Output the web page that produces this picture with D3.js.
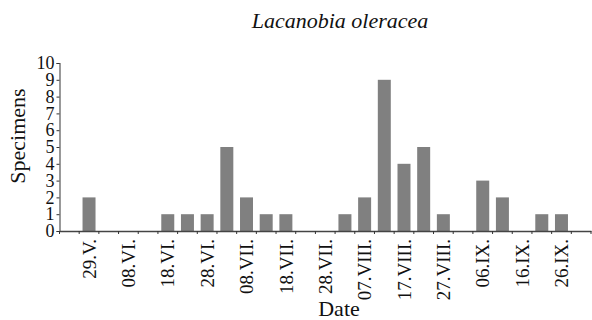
<!DOCTYPE html>
<html>
<head>
<meta charset="utf-8">
<script src="https://cdn.jsdelivr.net/npm/d3@7"></script>
<style>
  body { margin: 0; background: #fff; }
  svg text { font-family: "Liberation Serif", serif; fill: #111; }
</style>
</head>
<body>
<div id="chart"></div>
<script>
// 5-day sampling dates (every other one gets a label)
const dates = ["24.V.", "29.V.", "03.VI.", "08.VI.", "13.VI.", "18.VI.", "23.VI.", "28.VI.",
  "03.VII.", "08.VII.", "13.VII.", "18.VII.", "23.VII.", "28.VII.", "02.VIII.", "07.VIII.",
  "12.VIII.", "17.VIII.", "22.VIII.", "27.VIII.", "01.IX.", "06.IX.", "11.IX.", "16.IX.",
  "21.IX.", "26.IX.", "01.X."];
const specimens = [0, 2, 0, 0, 0, 1, 1, 1, 5, 2, 1, 1, 0, 0, 1, 2, 9, 4, 5, 1, 0, 3, 2, 0, 1, 1, 0];
const tickLabels = ["29.V.", "08.VI.", "18.VI.", "28.VI.", "08.VII.", "18.VII.", "28.VII.",
  "07.VIII.", "17.VIII.", "27.VIII.", "06.IX.", "16.IX.", "26.IX."];
const yTicks = [0, 1, 2, 3, 4, 5, 6, 7, 8, 9, 10];

const W = 592, H = 320;
const plotLeft = 59.5, plotRight = 591, plotTop = 63, plotBottom = 231;

const svg = d3.select("#chart")
  .append("svg")
  .attr("width", W)
  .attr("height", H);

// x: one band per date
const x = d3.scaleBand()
  .domain(dates)
  .range([plotLeft, plotRight])
  .paddingInner(0.34)
  .paddingOuter(0.17);

const y = d3.scaleLinear()
  .domain([0, 10])
  .range([plotBottom, plotTop]);

// bars
svg.append("g")
  .selectAll("rect")
  .data(dates.map((d, i) => ({date: d, value: specimens[i]})).filter(d => d.value > 0))
  .join("rect")
  .attr("x", d => x(d.date))
  .attr("y", d => y(d.value))
  .attr("width", x.bandwidth())
  .attr("height", d => y(0) - y(d.value))
  .attr("fill", "#808080");

// y axis
const yAxis = svg.append("g")
  .attr("transform", `translate(${plotLeft},0)`)
  .call(d3.axisLeft(y).tickValues(yTicks).tickSize(3).tickPadding(2));
yAxis.select(".domain").attr("stroke", "#555").attr("stroke-width", 1.2);
yAxis.selectAll(".tick line").attr("stroke", "#333");
yAxis.selectAll(".tick text")
  .style("font-size", "18px")
  .style("font-family", "Liberation Serif, serif")
  .attr("fill", "#111");

// x axis: labels at every other band centre
const xAxis = svg.append("g")
  .attr("transform", `translate(0,${plotBottom})`)
  .call(d3.axisBottom(x).tickValues(tickLabels).tickSize(0));
xAxis.select(".domain").attr("stroke", "#444").attr("stroke-width", 1.5);
xAxis.selectAll(".tick text")
  .style("font-size", "19px")
  .style("font-family", "Liberation Serif, serif")
  .attr("fill", "#111")
  .attr("transform", "rotate(-90)")
  .attr("text-anchor", "end")
  .attr("x", -8)
  .attr("y", 0)
  .attr("dy", "0.35em");

// small tick marks at band boundaries
const half = x.step() * x.paddingInner() / 2;
const bounds = dates.map(d => x(d) - half).concat([plotRight]);
svg.append("g")
  .selectAll("line")
  .data(bounds)
  .join("line")
  .attr("x1", d => d).attr("x2", d => d)
  .attr("y1", plotBottom).attr("y2", plotBottom + 3)
  .attr("stroke", "#333")
  .attr("stroke-width", 1);

// titles
svg.append("text")
  .attr("x", 340).attr("y", 28)
  .attr("text-anchor", "middle")
  .style("font-size", "22px")
  .style("font-style", "italic")
  .text("Lacanobia oleracea");

svg.append("text")
  .attr("transform", "translate(25,136) rotate(-90)")
  .attr("text-anchor", "middle")
  .style("font-size", "22px")
  .text("Specimens");

svg.append("text")
  .attr("x", 339).attr("y", 316)
  .attr("text-anchor", "middle")
  .style("font-size", "22px")
  .text("Date");
</script>
</body>
</html>
